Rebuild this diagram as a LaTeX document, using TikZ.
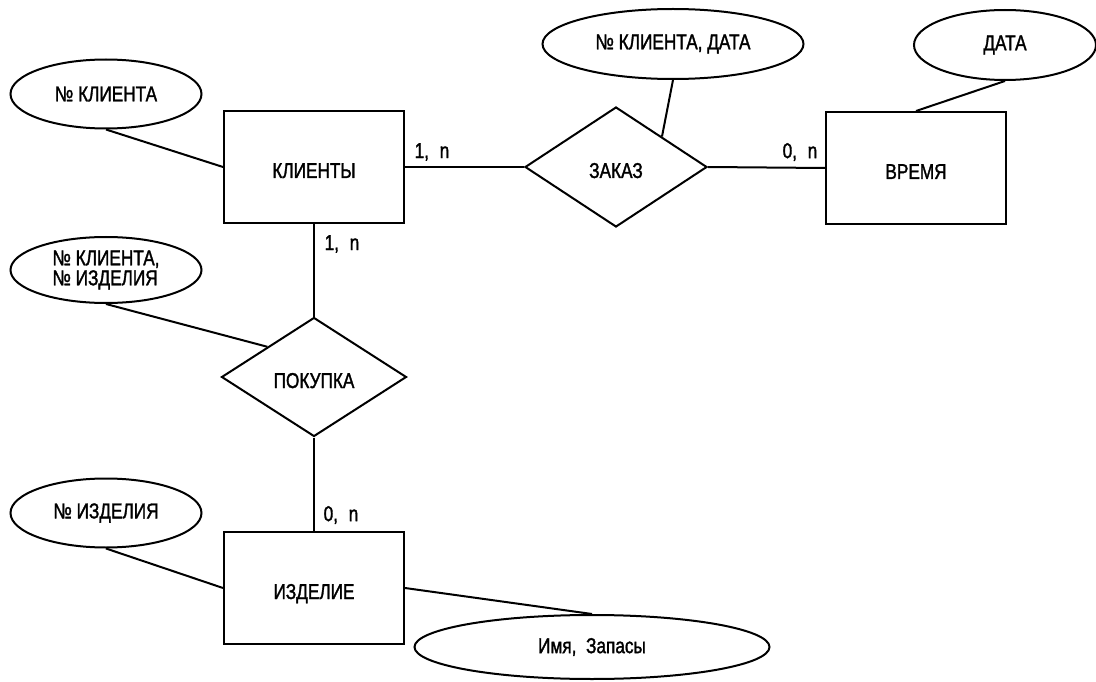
\documentclass[tikz,border=0pt]{standalone}
\usepackage{fontspec}
\setmainfont{Liberation Sans}[FakeStretch=0.8,FakeBold=1.5]
\usetikzlibrary{shapes.geometric,calc}
\begin{document}
\begin{tikzpicture}[x=1pt,y=-1pt,
  every node/.style={font=\fontsize{21.5}{20}\selectfont, inner sep=0pt},
  conn/.style={line width=2pt},
  attr/.style={draw, ellipse, line width=2pt},
  entity/.style={draw, rectangle, line width=2pt, minimum width=180pt, minimum height=112pt, text height=22pt, text depth=0pt},
  rel/.style={draw, diamond, line width=2pt, text height=22pt, text depth=0pt},
  card/.style={}]
\useasboundingbox (0,0) rectangle (1096,682);

% entities
\node[entity] (K) at (314,167) {КЛИЕНТЫ};
\node[entity] (V) at (916,168) {ВРЕМЯ};
\node[entity] (I) at (314,588) {ИЗДЕЛИЕ};

% relationships
\node[rel, minimum width=182pt, minimum height=120pt] (Z) at (616,167) {ЗАКАЗ};
\node[rel, minimum width=185pt, minimum height=119pt] (P) at (314,377) {ПОКУПКА};

% attributes
\node[attr, minimum width=191pt, minimum height=69pt] (A1) at (106,94) {№ КЛИЕНТА};
\node[attr, minimum width=261pt, minimum height=70pt] (B1) at (673,44) {№ КЛИЕНТА, ДАТА};
\node[attr, minimum width=182pt, minimum height=70pt] (C1) at (1005,45) {ДАТА};
\node[attr, minimum width=191pt, minimum height=66pt, align=left] (D1) at (106,270) {№ КЛИЕНТА,\\№ ИЗДЕЛИЯ};
\node[attr, minimum width=191pt, minimum height=69pt] (E1) at (106,513) {№ ИЗДЕЛИЯ};
\node[attr, minimum width=355pt, minimum height=64pt] (F1) at (592,647) {Имя,\hspace{0.45em}Запасы};

% cardinalities
\node[card] (L1) at (432,152) {1,\hspace{0.5em}n};
\node[card] (L2) at (800,152) {0,\hspace{0.5em}n};
\node[card] (L3) at (342,244) {1,\hspace{0.5em}n};
\node[card] (L4) at (341,515) {0,\hspace{0.5em}n};

% connectors
\draw[conn] (A1.south) -- (K.west);
\draw[conn] (K.east) -- (Z.west);
\draw[conn] (Z.east) -- (V.west);
\draw[conn] (B1.south) -- ($(Z.north)!0.5!(Z.east)$);
\draw[conn] (C1.south) -- (V.north);
\draw[conn] (K.south) -- (P.north);
\draw[conn] (D1.south) -- ($(P.north)!0.5!(P.west)$);
\draw[conn] (P.south) -- (I.north);
\draw[conn] (E1.south) -- (I.west);
\draw[conn] (I.east) -- (F1.north);
\end{tikzpicture}
\end{document}
